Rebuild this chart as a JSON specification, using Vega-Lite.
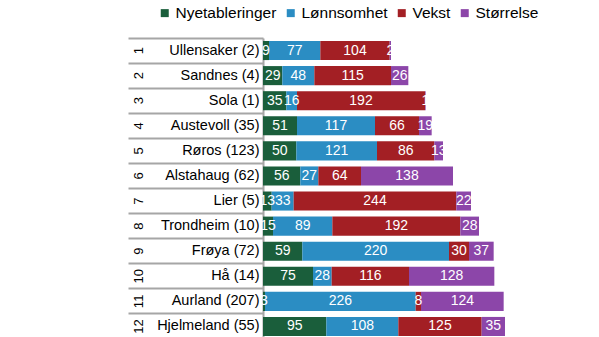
{
  "$schema": "https://vega.github.io/schema/vega-lite/v6.json",
  "width": 336,
  "height": 301,
  "autosize": {"type": "none"},
  "padding": {"left": 263, "top": 38, "right": 0, "bottom": 0},
  "background": "white",
  "config": {
    "view": {"stroke": null},
    "font": "Liberation Sans",
    "text": {"font": "Liberation Sans"}
  },
  "data": {
    "values": [
      {"kommune": "Ullensaker (2)", "rang": 1, "nr": 1, "kategori": "Nyetableringer", "poeng": 9},
      {"kommune": "Ullensaker (2)", "rang": 1, "nr": 2, "kategori": "Lønnsomhet", "poeng": 77},
      {"kommune": "Ullensaker (2)", "rang": 1, "nr": 3, "kategori": "Vekst", "poeng": 104},
      {"kommune": "Ullensaker (2)", "rang": 1, "nr": 4, "kategori": "Størrelse", "poeng": 2},
      {"kommune": "Sandnes (4)", "rang": 2, "nr": 1, "kategori": "Nyetableringer", "poeng": 29},
      {"kommune": "Sandnes (4)", "rang": 2, "nr": 2, "kategori": "Lønnsomhet", "poeng": 48},
      {"kommune": "Sandnes (4)", "rang": 2, "nr": 3, "kategori": "Vekst", "poeng": 115},
      {"kommune": "Sandnes (4)", "rang": 2, "nr": 4, "kategori": "Størrelse", "poeng": 26},
      {"kommune": "Sola (1)", "rang": 3, "nr": 1, "kategori": "Nyetableringer", "poeng": 35},
      {"kommune": "Sola (1)", "rang": 3, "nr": 2, "kategori": "Lønnsomhet", "poeng": 16},
      {"kommune": "Sola (1)", "rang": 3, "nr": 3, "kategori": "Vekst", "poeng": 192},
      {"kommune": "Sola (1)", "rang": 3, "nr": 4, "kategori": "Størrelse", "poeng": 1},
      {"kommune": "Austevoll (35)", "rang": 4, "nr": 1, "kategori": "Nyetableringer", "poeng": 51},
      {"kommune": "Austevoll (35)", "rang": 4, "nr": 2, "kategori": "Lønnsomhet", "poeng": 117},
      {"kommune": "Austevoll (35)", "rang": 4, "nr": 3, "kategori": "Vekst", "poeng": 66},
      {"kommune": "Austevoll (35)", "rang": 4, "nr": 4, "kategori": "Størrelse", "poeng": 19},
      {"kommune": "Røros (123)", "rang": 5, "nr": 1, "kategori": "Nyetableringer", "poeng": 50},
      {"kommune": "Røros (123)", "rang": 5, "nr": 2, "kategori": "Lønnsomhet", "poeng": 121},
      {"kommune": "Røros (123)", "rang": 5, "nr": 3, "kategori": "Vekst", "poeng": 86},
      {"kommune": "Røros (123)", "rang": 5, "nr": 4, "kategori": "Størrelse", "poeng": 13},
      {"kommune": "Alstahaug (62)", "rang": 6, "nr": 1, "kategori": "Nyetableringer", "poeng": 56},
      {"kommune": "Alstahaug (62)", "rang": 6, "nr": 2, "kategori": "Lønnsomhet", "poeng": 27},
      {"kommune": "Alstahaug (62)", "rang": 6, "nr": 3, "kategori": "Vekst", "poeng": 64},
      {"kommune": "Alstahaug (62)", "rang": 6, "nr": 4, "kategori": "Størrelse", "poeng": 138},
      {"kommune": "Lier (5)", "rang": 7, "nr": 1, "kategori": "Nyetableringer", "poeng": 13},
      {"kommune": "Lier (5)", "rang": 7, "nr": 2, "kategori": "Lønnsomhet", "poeng": 33},
      {"kommune": "Lier (5)", "rang": 7, "nr": 3, "kategori": "Vekst", "poeng": 244},
      {"kommune": "Lier (5)", "rang": 7, "nr": 4, "kategori": "Størrelse", "poeng": 22},
      {"kommune": "Trondheim (10)", "rang": 8, "nr": 1, "kategori": "Nyetableringer", "poeng": 15},
      {"kommune": "Trondheim (10)", "rang": 8, "nr": 2, "kategori": "Lønnsomhet", "poeng": 89},
      {"kommune": "Trondheim (10)", "rang": 8, "nr": 3, "kategori": "Vekst", "poeng": 192},
      {"kommune": "Trondheim (10)", "rang": 8, "nr": 4, "kategori": "Størrelse", "poeng": 28},
      {"kommune": "Frøya (72)", "rang": 9, "nr": 1, "kategori": "Nyetableringer", "poeng": 59},
      {"kommune": "Frøya (72)", "rang": 9, "nr": 2, "kategori": "Lønnsomhet", "poeng": 220},
      {"kommune": "Frøya (72)", "rang": 9, "nr": 3, "kategori": "Vekst", "poeng": 30},
      {"kommune": "Frøya (72)", "rang": 9, "nr": 4, "kategori": "Størrelse", "poeng": 37},
      {"kommune": "Hå (14)", "rang": 10, "nr": 1, "kategori": "Nyetableringer", "poeng": 75},
      {"kommune": "Hå (14)", "rang": 10, "nr": 2, "kategori": "Lønnsomhet", "poeng": 28},
      {"kommune": "Hå (14)", "rang": 10, "nr": 3, "kategori": "Vekst", "poeng": 116},
      {"kommune": "Hå (14)", "rang": 10, "nr": 4, "kategori": "Størrelse", "poeng": 128},
      {"kommune": "Aurland (207)", "rang": 11, "nr": 1, "kategori": "Nyetableringer", "poeng": 3},
      {"kommune": "Aurland (207)", "rang": 11, "nr": 2, "kategori": "Lønnsomhet", "poeng": 226},
      {"kommune": "Aurland (207)", "rang": 11, "nr": 3, "kategori": "Vekst", "poeng": 8},
      {"kommune": "Aurland (207)", "rang": 11, "nr": 4, "kategori": "Størrelse", "poeng": 124},
      {"kommune": "Hjelmeland (55)", "rang": 12, "nr": 1, "kategori": "Nyetableringer", "poeng": 95},
      {"kommune": "Hjelmeland (55)", "rang": 12, "nr": 2, "kategori": "Lønnsomhet", "poeng": 108},
      {"kommune": "Hjelmeland (55)", "rang": 12, "nr": 3, "kategori": "Vekst", "poeng": 125},
      {"kommune": "Hjelmeland (55)", "rang": 12, "nr": 4, "kategori": "Størrelse", "poeng": 35}
    ]
  },
  "transform": [
    {"stack": "poeng", "groupby": ["kommune"], "sort": [{"field": "nr", "order": "ascending"}], "as": ["p0", "p1"]},
    {"calculate": "(datum.p0 + datum.p1) / 2", "as": "pmid"}
  ],
  "layer": [
    {
      "encoding": {
        "y": {
          "field": "kommune",
          "type": "nominal",
          "sort": {"field": "rang", "op": "min", "order": "ascending"},
          "scale": {"paddingInner": 0, "paddingOuter": 0},
          "axis": {
            "title": null,
            "domainColor": "#a6a6a6",
            "domainWidth": 2,
            "tickColor": "#a6a6a6",
            "tickWidth": 2,
            "tickSize": 135,
            "bandPosition": 0,
            "labelPadding": -131,
            "labelFontSize": 14.5,
            "labelColor": "#000000",
            "labelFont": "Liberation Sans"
          }
        }
      },
      "layer": [
        {
          "mark": {"type": "bar", "height": {"band": 0.76}},
          "encoding": {
            "x": {"field": "p0", "type": "quantitative", "scale": {"domain": [0, 504], "nice": false}, "axis": null},
            "x2": {"field": "p1"},
            "color": {
              "field": "kategori",
              "type": "nominal",
              "scale": {
                "domain": ["Nyetableringer", "Lønnsomhet", "Vekst", "Størrelse"],
                "range": ["#1a5e3b", "#2b8dc3", "#a31f24", "#8c46a9"]
              },
              "legend": {
                "title": null,
                "orient": "none",
                "direction": "horizontal",
                "legendX": -106,
                "legendY": -33,
                "symbolType": "square",
                "symbolSize": 64,
                "symbolStrokeWidth": 0,
                "labelFontSize": 15.5,
                "labelFont": "Liberation Sans",
                "labelColor": "#000000",
                "labelOffset": 3,
                "columnPadding": 6
              }
            }
          }
        },
        {
          "mark": {"type": "text", "color": "white", "fontSize": 14, "baseline": "middle", "align": "center"},
          "encoding": {
            "x": {"field": "pmid", "type": "quantitative"},
            "text": {"field": "poeng", "type": "quantitative"}
          }
        }
      ]
    },
    {
      "mark": {"type": "bar", "opacity": 0},
      "encoding": {
        "y": {
          "field": "rang",
          "type": "ordinal",
          "scale": {"paddingInner": 0, "paddingOuter": 0},
          "axis": {
            "title": null,
            "orient": "left",
            "domain": false,
            "ticks": false,
            "labelAngle": 270,
            "labelAlign": "center",
            "labelBaseline": "middle",
            "labelPadding": 125,
            "labelFontSize": 13,
            "labelColor": "#000000",
            "labelFont": "Liberation Sans"
          }
        },
        "x": {"datum": 0}
      }
    }
  ],
  "resolve": {"scale": {"y": "independent"}}
}
